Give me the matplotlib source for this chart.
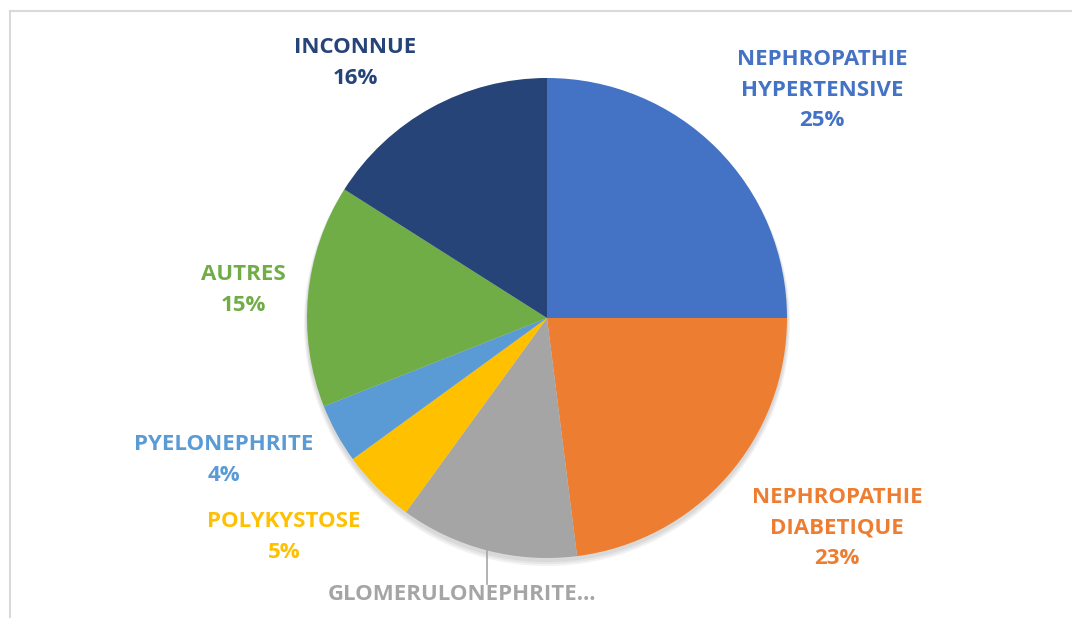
import numpy as np
import matplotlib
matplotlib.use('Agg')
import matplotlib.pyplot as plt
from matplotlib.patches import Circle
from matplotlib.lines import Line2D

# data
labels = ['NEPHROPATHIE\nHYPERTENSIVE', 'NEPHROPATHIE\nDIABETIQUE', 'GLOMERULONEPHRITE…',
          'POLYKYSTOSE', 'PYELONEPHRITE', 'AUTRES', 'INCONNUE']
values = [25, 23, 12, 5, 4, 15, 16]
colors = ['#4472C4', '#ED7D31', '#A5A5A5', '#FFC000', '#5B9BD5', '#70AD47', '#264478']

# label placement (pixel coords, y from top)
label_pos = [(822, 90), (837, 528), (462, 594), (284, 537), (224, 460), (243, 290), (355, 63)]

W, H = 1072, 618
cx, cy, r = 547, H - 318, 240

fig = plt.figure(figsize=(W / 100, H / 100), dpi=100)
ax = fig.add_axes([0, 0, 1, 1])

# chart frame (left and top edges visible)
ax.add_line(Line2D([9.5, 9.5], [0, H - 11], color='#D9D9D9', lw=1.5))
ax.add_line(Line2D([9.5, W], [H - 11, H - 11], color='#D9D9D9', lw=1.5))

# soft shadow under pie
for k in range(3):
    ax.add_patch(Circle((cx, cy - 3 - k), r + 1 + k, color='black', alpha=0.05, lw=0, zorder=0))

wedges, _ = ax.pie(values, colors=colors, startangle=90, counterclock=False,
                   center=(cx, cy), radius=r, frame=True,
                   wedgeprops={'linewidth': 0, 'zorder': 1})
ax.set_xlim(0, W)
ax.set_ylim(0, H)
ax.set_aspect('equal')
ax.axis('off')

font = {'family': ['Open Sans', 'DejaVu Sans'], 'weight': 'bold', 'size': 16}
for i, (lab, v) in enumerate(zip(labels, values)):
    x, y = label_pos[i]
    txt = lab if i == 2 else lab + '\n%d%%' % v
    ax.text(x, H - y, txt, ha='center', va='center', color=colors[i],
            linespacing=1.58, **font)

# leader line for glomerulonephrite
w = wedges[2]
mid = np.deg2rad((w.theta1 + w.theta2) / 2)
lx, ly = cx + r * np.cos(mid), cy + r * np.sin(mid)
ax.add_line(Line2D([lx, lx], [ly, H - 584], color='#A5A5A5', lw=1.2))

plt.savefig('out.png', dpi=100)
plt.close()
